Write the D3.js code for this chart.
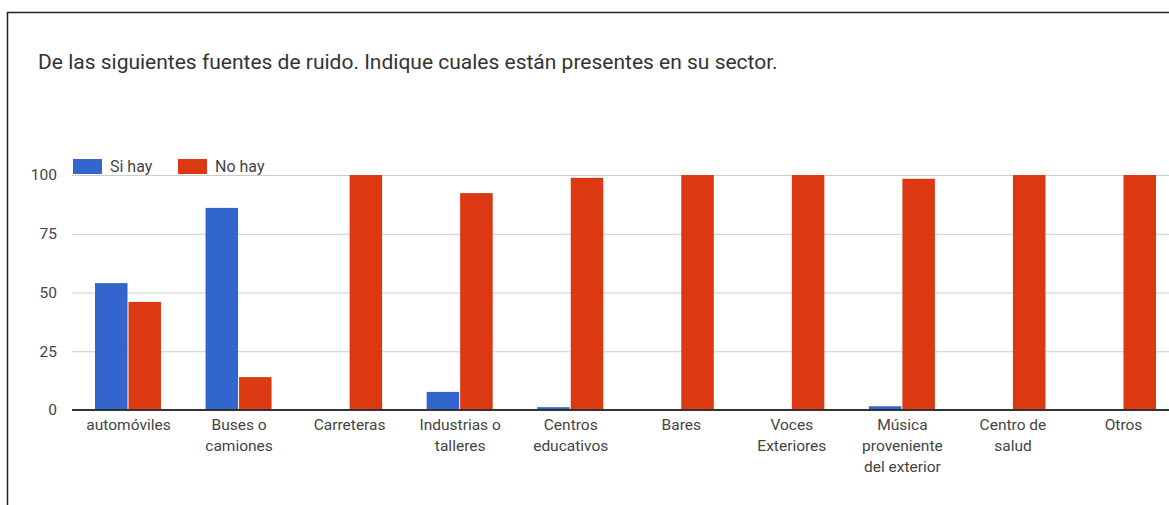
<!DOCTYPE html>
<html><head><meta charset="utf-8">
<script src="https://cdn.jsdelivr.net/npm/d3@7"></script>
<style>
html,body{margin:0;padding:0;background:#fff;overflow:hidden}
svg{display:block}
text{font-family:Roboto,"Liberation Sans",Arial,sans-serif}
</style></head>
<body>
<svg id="c" width="1169" height="505"></svg>
<script>
const title = "De las siguientes fuentes de ruido. Indique cuales están presentes en su sector.";
const categories = ["automóviles","Buses o camiones","Carreteras","Industrias o talleres","Centros educativos","Bares","Voces Exteriores","Música proveniente del exterior","Centro de salud","Otros"];
const seriesNames = ["Si hay","No hay"];
const siHay = [54, 86, 0, 7.7, 1.2, 0, 0, 1.6, 0, 0];
const noHay = [46, 14, 100, 92.3, 98.8, 100, 100, 98.4, 100, 100];
const yTicks = [0, 25, 50, 75, 100];
const colors = ["#3366cc", "#dc3912"];

(function(){
const svg = d3.select("#c");
svg.append("path").attr("d","M7.5,505 V12.5 H1169").attr("fill","none").attr("stroke","#222").attr("stroke-width",1.5);

svg.append("text").attr("x",38).attr("y",69).attr("font-size",21).attr("fill","#333").text(title);

const pL = 72, pR = 1180, pT = 175, pB = 410;
const x = d3.scaleBand().domain(categories).range([pL,pR]).paddingInner(0.394).paddingOuter(0.208);
const xs = d3.scaleBand().domain(seriesNames).range([0,x.bandwidth()]);
const y = d3.scaleLinear().domain([0,100]).range([pB,pT]);

const yAxis = d3.axisLeft(y).tickValues(yTicks).tickSize(-(1169-pL)).tickPadding(15);
const gy = svg.append("g").attr("transform",`translate(${pL},0)`).call(yAxis);
gy.select(".domain").remove();
gy.selectAll(".tick line").attr("stroke","#ccc").attr("stroke-width",1);
gy.selectAll(".tick text").attr("font-size",15.5).attr("fill","#444").attr("font-family","Roboto,Arial,sans-serif");

const data = categories.map((c,i)=>({c, vals:[siHay[i], noHay[i]]}));
const groups = svg.append("g").selectAll("g").data(data).join("g").attr("transform",d=>`translate(${x(d.c)},0)`);
groups.selectAll("rect").data(d=>d.vals.map((v,j)=>({v,j}))).join("rect")
  .attr("x",d=>xs(seriesNames[d.j]))
  .attr("width",xs.bandwidth()-1)
  .attr("y",d=>y(d.v))
  .attr("height",d=>pB-y(d.v))
  .attr("fill",d=>colors[d.j]);

svg.append("line").attr("x1",pL).attr("x2",1169).attr("y1",pB).attr("y2",pB).attr("stroke","#333").attr("stroke-width",2);

const xAxis = d3.axisBottom(x).tickSize(0).tickPadding(0);
const gx = svg.append("g").attr("transform",`translate(0,${pB})`).call(xAxis);
gx.select(".domain").remove();
gx.selectAll(".tick text").attr("font-size",15.5).attr("fill","#444").attr("font-family","Roboto,Arial,sans-serif")
  .attr("dy",null).attr("y",null)
  .each(function(d){
    const t = d3.select(this); const words = d.split(" ");
    t.text(null);
    let lines=[], cur="";
    const tmp = t.append("tspan");
    for(const w of words){
      const test = cur? cur+" "+w : w;
      tmp.text(test);
      if(tmp.node().getComputedTextLength()>94 && cur){ lines.push(cur); cur=w; } else cur=test;
    }
    lines.push(cur); tmp.remove();
    lines.forEach((l,k)=>t.append("tspan").attr("x",0).attr("y",20+k*21).text(l));
  });

const lg = svg.append("g");
const lx = [73,178];
seriesNames.forEach((s,i)=>{
  lg.append("rect").attr("x",lx[i]).attr("y",159).attr("width",29).attr("height",15).attr("fill",colors[i]);
  lg.append("text").attr("x",lx[i]+37).attr("y",172).attr("font-size",16).attr("fill","#444").text(s);
});
})();
</script>
</body></html>
